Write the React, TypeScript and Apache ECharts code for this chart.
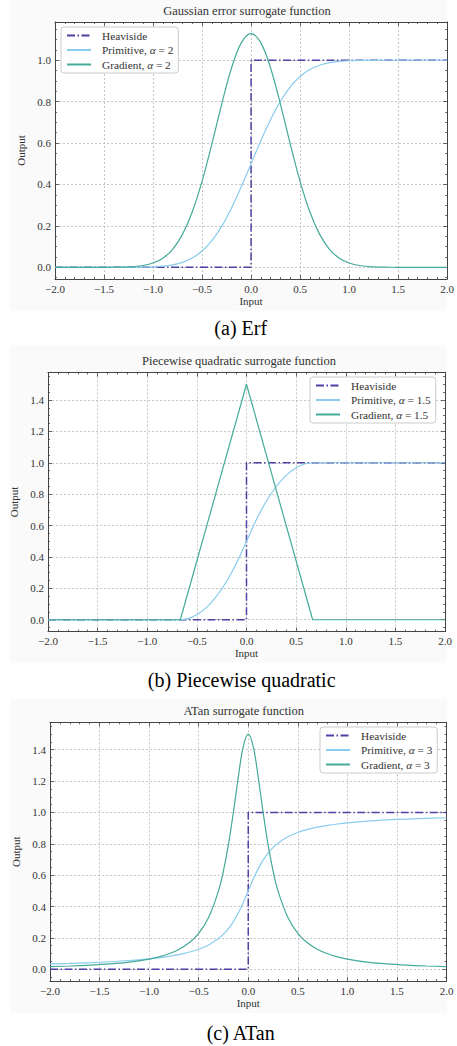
import React, { useEffect, useRef } from "react";
import * as echarts from "echarts";

// ---------- data ----------
const heavisideX = [-2, 0, 0, 2];
const heavisideY = [0, 0, 1, 1];

const erfX = [
  -2.0, -1.9, -1.8, -1.7, -1.6, -1.5, -1.4, -1.3, -1.2, -1.1, -1.0, -0.9, -0.8, -0.7, -0.6, -0.5, -0.4, -0.3, -0.2, -0.1,
  0.0, 0.1, 0.2, 0.3, 0.4, 0.5, 0.6, 0.7, 0.8, 0.9, 1.0, 1.1, 1.2, 1.3, 1.4, 1.5, 1.6, 1.7, 1.8, 1.9, 2.0,
];
const erfPrimitive = [
  0, 0, 0, 0, 0, 0, 0, 0.0001, 0.0004, 0.0009, 0.0023, 0.0054, 0.0118, 0.0238, 0.0448, 0.0786, 0.1289, 0.198, 0.2858, 0.3886,
  0.5, 0.6114, 0.7142, 0.802, 0.8711, 0.9214, 0.9552, 0.9762, 0.9882, 0.9946, 0.9977, 0.9991, 0.9996, 0.9999, 1, 1, 1, 1, 1, 1, 1,
];
const erfGradient = [
  0, 0, 0, 0, 0.00004, 0.00014, 0.00044, 0.0013, 0.0036, 0.0089, 0.0207, 0.0442, 0.0872, 0.159, 0.2673, 0.4151, 0.595, 0.7873, 0.9615, 1.0842,
  1.1284, 1.0842, 0.9615, 0.7873, 0.595, 0.4151, 0.2673, 0.159, 0.0872, 0.0442, 0.0207, 0.0089, 0.0036, 0.0013, 0.00044, 0.00014, 0.00004, 0, 0, 0, 0,
];

const pqPrimitiveX = [-2, -0.6667, -0.6, -0.5, -0.4, -0.3, -0.2, -0.1, 0, 0.1, 0.2, 0.3, 0.4, 0.5, 0.6, 0.6667, 2];
const pqPrimitive = [0, 0, 0.005, 0.0313, 0.08, 0.1513, 0.245, 0.3613, 0.5, 0.6388, 0.755, 0.8488, 0.92, 0.9688, 0.995, 1, 1];
const pqGradientX = [-2, -0.6667, 0, 0.6667, 2];
const pqGradient = [0, 0, 1.5, 0, 0];

const atanX = [
  -2.0, -1.8, -1.6, -1.4, -1.2, -1.0, -0.9, -0.8, -0.7, -0.6, -0.5, -0.4, -0.3, -0.25, -0.2, -0.15, -0.1, -0.05,
  0, 0.05, 0.1, 0.15, 0.2, 0.25, 0.3, 0.4, 0.5, 0.6, 0.7, 0.8, 0.9, 1.0, 1.2, 1.4, 1.6, 1.8, 2.0,
];
const atanPrimitive = [
  0.0337, 0.0374, 0.042, 0.0479, 0.0557, 0.0666, 0.0737, 0.0825, 0.0937, 0.1083, 0.1277, 0.1552, 0.1959, 0.224, 0.2594, 0.3041, 0.3598, 0.4263,
  0.5, 0.5737, 0.6402, 0.6959, 0.7406, 0.776, 0.8041, 0.8448, 0.8723, 0.8917, 0.9063, 0.9175, 0.9263, 0.9334, 0.9443, 0.9521, 0.958, 0.9626, 0.9663,
];
const atanGradient = [
  0.0167, 0.0206, 0.0259, 0.0337, 0.0455, 0.0646, 0.079, 0.0986, 0.1262, 0.1668, 0.2289, 0.3294, 0.5002, 0.6282, 0.7944, 1.0003, 1.2274, 1.4211,
  1.5, 1.4211, 1.2274, 1.0003, 0.7944, 0.6282, 0.5002, 0.3294, 0.2289, 0.1668, 0.1262, 0.0986, 0.079, 0.0646, 0.0455, 0.0337, 0.0259, 0.0206, 0.0167,
];

const plotTitles = ["Gaussian error surrogate function", "Piecewise quadratic surrogate function", "ATan surrogate function"];
const captions = ["(a) Erf", "(b) Piecewise quadratic", "(c) ATan"];
const alphas = ["2", "1.5", "3"];
const yRanges = [
  [-0.0564, 1.1848],
  [-0.075, 1.575],
  [-0.075, 1.575],
];

// ---------- styling / layout ----------
const FONT = "Liberation Serif, Times New Roman, serif";
const C_HEAVI = "#4d41a3";
const C_PRIM = "#88CCEE";
const C_GRAD = "#44AA99";
const AX = "#444";

const grids = [
  { left: 55, top: 22, width: 395, height: 257 },
  { left: 48, top: 372.5, width: 397, height: 259 },
  { left: 50, top: 722.3, width: 396.5, height: 258.7 },
];
const titlePos = [
  [247, 10.7],
  [239, 361],
  [243.7, 711],
];
const captionPos = [
  [240.7, 328],
  [241.7, 680],
  [240.7, 1032.7],
];
const yNameGaps = [21, 23, 24];
const ySplit = [5, 8, 8];
const legendPos = [
  [61, 27],
  [310, 377],
  [320, 727],
];
const panels = [
  [10, 0, 447, 311],
  [10, 345, 447, 318],
  [10, 699, 447, 314],
];

const pairs = (xs: number[], ys: number[]) => xs.map((x, i) => [x, ys[i]]);
const fmt = (v: number) => v.toFixed(1).replace("-", "\u2212");

function buildOption() {
  const xAxis: any[] = [];
  const yAxis: any[] = [];
  const series: any[] = [];
  const legend: any[] = [];
  const title: any[] = [];

  const primData = [pairs(erfX, erfPrimitive), pairs(pqPrimitiveX, pqPrimitive), pairs(atanX, atanPrimitive)];
  const gradData = [pairs(erfX, erfGradient), pairs(pqGradientX, pqGradient), pairs(atanX, atanGradient)];
  const gradSmooth = [0.35, false, 0.35];

  for (let g = 0; g < 3; g++) {
    const tick = { show: true, inside: true, length: 4, lineStyle: { color: AX, width: 0.8 } };
    const minor = { show: true, length: 2, lineStyle: { color: AX, width: 0.8 } };
    const line = { show: true, onZero: false, lineStyle: { color: AX, width: 1 } };
    const split = { show: true, lineStyle: { color: "#b8b8b8", type: [2, 2], width: 0.8 } };
    const lab = { color: "#333", fontFamily: FONT, fontSize: 11 };

    xAxis.push({
      type: "value",
      gridIndex: g,
      position: "bottom",
      min: -2,
      max: 2,
      interval: 0.5,
      axisLine: line,
      axisTick: tick,
      minorTick: { ...minor, splitNumber: 5 },
      splitLine: split,
      axisLabel: { ...lab, margin: 4, formatter: fmt },
      name: "Input",
      nameLocation: "middle",
      nameGap: 16,
      nameTextStyle: { ...lab },
    });
    xAxis.push({
      type: "value",
      gridIndex: g,
      position: "top",
      min: -2,
      max: 2,
      interval: 0.5,
      axisLine: line,
      axisTick: tick,
      minorTick: { ...minor, splitNumber: 5 },
      splitLine: { show: false },
      axisLabel: { show: false },
    });
    yAxis.push({
      type: "value",
      gridIndex: g,
      position: "left",
      min: yRanges[g][0],
      max: yRanges[g][1],
      splitNumber: ySplit[g],
      axisLine: line,
      axisTick: tick,
      minorTick: { ...minor, splitNumber: 4 },
      splitLine: split,
      axisLabel: { ...lab, margin: 4, formatter: fmt, showMinLabel: false, showMaxLabel: false },
      name: "Output",
      nameLocation: "middle",
      nameGap: yNameGaps[g],
      nameTextStyle: { ...lab },
    });
    yAxis.push({
      type: "value",
      gridIndex: g,
      position: "right",
      min: yRanges[g][0],
      max: yRanges[g][1],
      splitNumber: ySplit[g],
      axisLine: line,
      axisTick: tick,
      minorTick: { ...minor, splitNumber: 4 },
      splitLine: { show: false },
      axisLabel: { show: false },
    });

    const primName = `Primitive, α = ${alphas[g]}`;
    const gradName = `Gradient, α = ${alphas[g]}`;
    const common = { type: "line", xAxisIndex: 2 * g, yAxisIndex: 2 * g, symbol: "none", showSymbol: false, silent: true };
    series.push({
      ...common,
      name: "Heaviside",
      data: pairs(heavisideX, heavisideY),
      lineStyle: { color: C_HEAVI, width: 1.5, type: [8, 2.5, 1.5, 2.5] },
      itemStyle: { color: C_HEAVI },
    });
    series.push({
      ...common,
      name: primName,
      data: primData[g],
      smooth: 0.35,
      lineStyle: { color: C_PRIM, width: 1.2 },
      itemStyle: { color: C_PRIM },
    });
    series.push({
      ...common,
      name: gradName,
      data: gradData[g],
      smooth: gradSmooth[g],
      lineStyle: { color: C_GRAD, width: 1.2 },
      itemStyle: { color: C_GRAD },
    });

    legend.push({
      orient: "vertical",
      left: legendPos[g][0],
      top: legendPos[g][1],
      data: ["Heaviside", primName, gradName],
      itemWidth: 24,
      itemHeight: 12,
      itemGap: 3.5,
      padding: [3, 5, 3, 5],
      backgroundColor: "rgba(255,255,255,0.9)",
      borderColor: "#cccccc",
      borderWidth: 1,
      borderRadius: 3,
      selectedMode: false,
      itemStyle: { opacity: 0, borderWidth: 0 },
      formatter: (name: string) => {
        const parts = name.split("α");
        if (parts.length < 2) return `{n|${name}}`;
        return `{n|${parts[0]}}{a|α}{n|${parts[1]}}`;
      },
      textStyle: {
        padding: [0, 0, 0, 6],
        rich: {
          n: { fontFamily: FONT, fontSize: 11.3, color: "#333" },
          a: { fontFamily: FONT, fontSize: 11.3, color: "#333", fontStyle: "italic" },
        },
      },
    });

    title.push({
      text: plotTitles[g],
      left: titlePos[g][0],
      top: titlePos[g][1],
      textAlign: "center",
      textVerticalAlign: "middle",
      padding: 0,
      textStyle: { fontFamily: FONT, fontSize: 12.5, fontWeight: "normal", color: "#333" },
    });
    title.push({
      text: captions[g],
      left: captionPos[g][0],
      top: captionPos[g][1],
      textAlign: "center",
      textVerticalAlign: "middle",
      padding: 0,
      textStyle: { fontFamily: FONT, fontSize: 20, fontWeight: "normal", color: "#000" },
    });
  }

  return {
    animation: false,
    backgroundColor: "#ffffff",
    graphic: panels.map((p) => ({
      type: "rect",
      z: -100,
      silent: true,
      shape: { x: p[0], y: p[1], width: p[2] - p[0], height: p[3] },
      style: { fill: "#fafafa" },
    })),
    grid: grids.map((gr) => ({ ...gr, show: true, backgroundColor: "#ffffff", borderWidth: 0 })),
    title,
    legend,
    xAxis,
    yAxis,
    series,
  };
}

export default function App() {
  const ref = useRef<HTMLDivElement>(null);
  useEffect(() => {
    document.body.style.margin = "0";
    const chart = echarts.init(ref.current as HTMLDivElement, null, { renderer: "svg" });
    chart.setOption(buildOption() as any);
    return () => chart.dispose();
  }, []);
  return <div ref={ref} style={{ width: 457, height: 1046 }} />;
}
